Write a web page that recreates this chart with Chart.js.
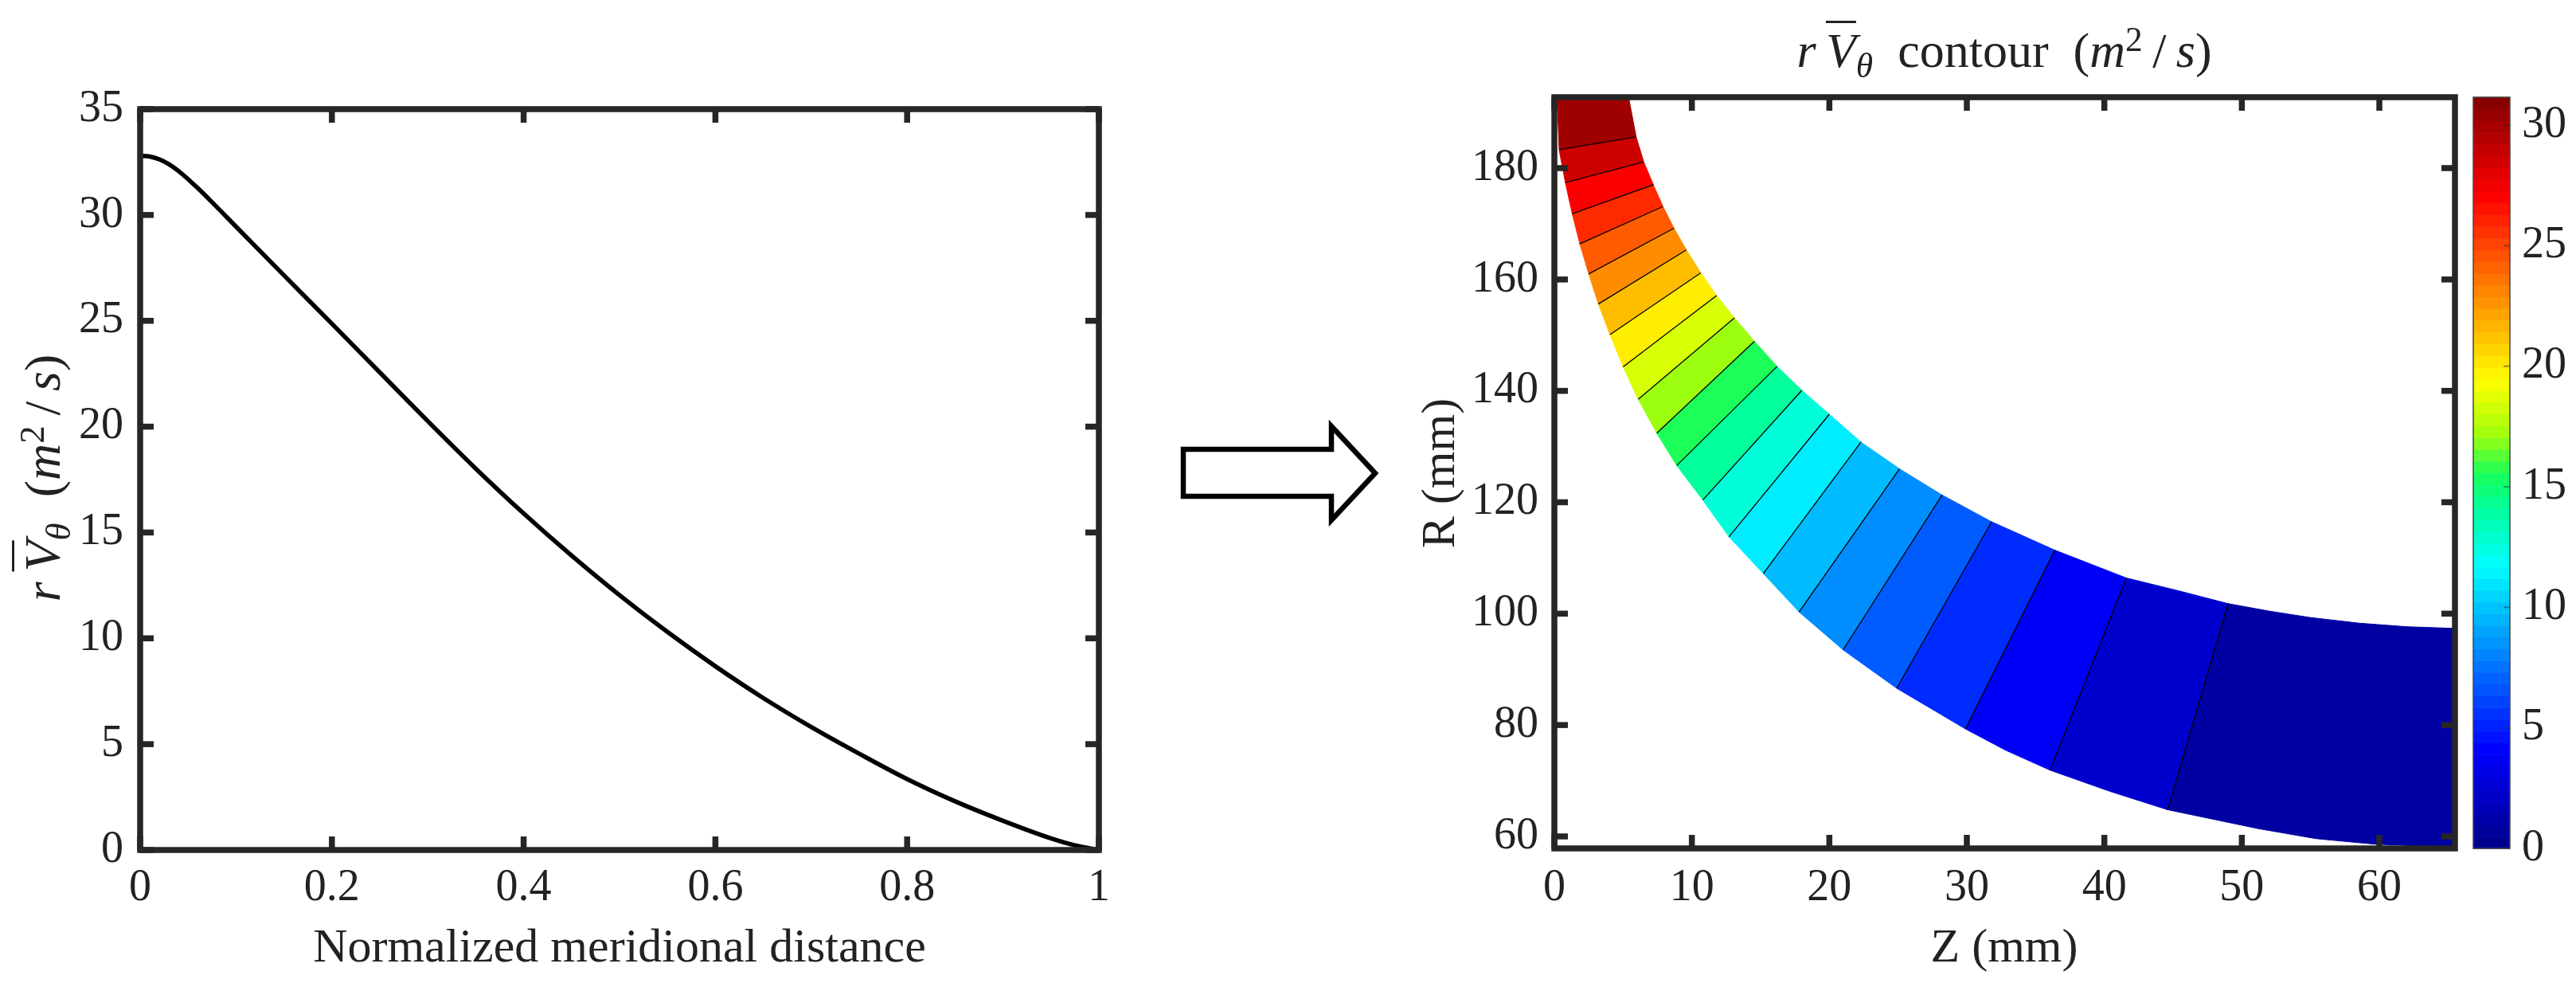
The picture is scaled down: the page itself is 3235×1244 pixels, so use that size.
<!DOCTYPE html>
<html>
<head>
<meta charset="utf-8">
<script src="https://cdn.jsdelivr.net/npm/chart.js@4.4.0/dist/chart.umd.min.js"></script>
<style>
  body { margin: 0; background: #fff; width: 3235px; height: 1244px; overflow: hidden; position: relative;
         font-family: 'Liberation Serif', serif; color: #222; }
  canvas { position: absolute; top: 0; }
  .lbl { position: absolute; font-size: 60px; line-height: 60px; white-space: nowrap; }
  .ov { text-decoration: overline; text-decoration-thickness: 3px; }
  .sub { position: relative; top: 0.3em; font-size: 0.7em; line-height: 0; }
  .sup { position: relative; top: -0.45em; font-size: 0.7em; line-height: 0; }
</style>
</head>
<body>
<canvas id="curve" width="1440" height="1244" style="left:0"></canvas>
<canvas id="contour" width="1420" height="1244" style="left:1700px"></canvas>
<canvas id="cbar" width="145" height="1244" style="left:3090px"></canvas>

<svg width="3235" height="1244" style="position:absolute;left:0;top:0">
  <polygon points="1486,564 1672,564 1672,535 1727,594 1672,653 1672,623 1486,623"
           fill="#fff" stroke="#000" stroke-width="6.5" stroke-linejoin="miter"/>
</svg>

<div class="lbl" style="left:54px;top:600px;font-size:64px;line-height:64px;transform:translate(-50%,-50%) rotate(-90deg)"><i>r</i>&thinsp;<i class="ov">V</i><span class="sub"><i>θ</i></span>&nbsp;&nbsp;(<i>m</i><span class="sup">2</span>&thinsp;/&thinsp;<i>s</i>)</div>
<div class="lbl" style="left:778px;top:1157px;transform:translateX(-50%)">Normalized meridional distance</div>
<div class="lbl" style="left:2517px;top:32px;font-size:62px;line-height:62px;transform:translateX(-50%)"><i>r</i>&thinsp;<i class="ov">V</i><span class="sub"><i>θ</i></span>&nbsp;&nbsp;contour&nbsp;&nbsp;(<i>m</i><span class="sup">2</span>&thinsp;/&thinsp;<i>s</i>)</div>
<div class="lbl" style="left:1806px;top:594px;transform:translate(-50%,-50%) rotate(-90deg)">R (mm)</div>
<div class="lbl" style="left:2517px;top:1157px;transform:translateX(-50%)">Z (mm)</div>

<script>
// left plot: rV_theta along the normalized meridional distance
const meridionalDistance = [0, 0.01, 0.02, 0.03, 0.04, 0.05, 0.06, 0.075, 0.1, 0.15, 0.2, 0.25, 0.3, 0.35, 0.4, 0.45, 0.5, 0.55, 0.6, 0.65, 0.7, 0.75, 0.8, 0.85, 0.9, 0.95, 0.975, 1];
const rVtheta = [32.8, 32.76, 32.63, 32.4, 32.08, 31.69, 31.27, 30.6, 29.45, 27.15, 24.86, 22.56, 20.26, 18.02, 15.9, 13.91, 12.04, 10.3, 8.68, 7.18, 5.81, 4.55, 3.35, 2.3, 1.38, 0.55, 0.22, 0];
const xTickLabels = ['0', '0.2', '0.4', '0.6', '0.8', '1'];

// right plot: passage outline (Z, R in mm), not counting the contour line ends
const hubZ = [0.2, 32.8, 40.4, 51.2, 55.4, 59.7, 62.5, 65.5];
const hubR = [192.73, 75.5, 68.1, 61.4, 59.6, 58.6, 58.35, 58.2];
const shroudZ = [5.4, 45.4, 52, 55, 58.5, 62, 65.5];
const shroudR = [192.73, 104.1, 100.45, 99.3, 98.3, 97.65, 97.35];

// contour lines, inlet to outlet: hub end and shroud end
const lineHubZ = [0.35, 0.8, 1.3, 1.85, 2.5, 3.2, 4.05, 5.0, 6.1, 7.45, 8.9, 10.8, 12.7, 15.2, 17.8, 21.0, 24.9, 29.9, 36.05, 44.6];
const lineHubR = [183.3, 177.4, 171.8, 166.4, 161.0, 155.6, 150.1, 144.3, 138.5, 132.4, 126.6, 120.4, 113.8, 107.2, 100.3, 93.5, 86.6, 79.3, 71.9, 64.8];
const lineShroudZ = [5.95, 6.5, 7.2, 7.9, 8.7, 9.6, 10.65, 11.8, 13.1, 14.55, 16.2, 18.0, 20.0, 22.3, 25.1, 28.2, 31.8, 36.4, 41.6, 49.0];
const lineShroudR = [185.6, 181.1, 177.0, 173.1, 169.2, 165.3, 161.2, 157.1, 153.1, 148.9, 144.4, 140.1, 135.8, 130.8, 126.0, 121.3, 116.5, 111.4, 106.4, 101.8];

// value of each filled band, inlet to outlet
const bandLevels = [30.4, 28.9, 27.4, 26.0, 24.5, 23.0, 21.5, 20.0, 18.5, 17.1, 15.6, 14.1, 12.6, 11.1, 9.6, 8.2, 6.7, 5.2, 3.7, 2.2, 0.7];
const colorRange = [0, 31.16];

const zRange = [0, 65.5];
const rRange = [57.85, 192.73];

// jet-like colormap
const cmapStops = [
  [0.000, [0.00, 0.00, 0.56]],
  [0.125, [0.00, 0.00, 1.00]],
  [0.375, [0.00, 1.00, 1.00]],
  [0.450, [0.00, 1.00, 0.62]],
  [0.500, [0.10, 1.00, 0.35]],
  [0.550, [0.62, 1.00, 0.05]],
  [0.625, [1.00, 1.00, 0.00]],
  [0.875, [1.00, 0.00, 0.00]],
  [1.000, [0.53, 0.00, 0.00]]
];
function colormap(t) {
  t = Math.max(0, Math.min(1, t));
  let i = 0;
  while (i < cmapStops.length - 2 && t > cmapStops[i + 1][0]) i++;
  const [t0, c0] = cmapStops[i], [t1, c1] = cmapStops[i + 1];
  const f = (t - t0) / (t1 - t0);
  const c = c0.map((v, k) => Math.round(255 * (v + (c1[k] - v) * f)));
  return `rgb(${c[0]},${c[1]},${c[2]})`;
}

const AXIS = '#262626';
const SERIF = "'Liberation Serif', serif";
const tickFont = { family: SERIF, size: 56 };

// box round the plot area with inward ticks on all four sides
const matlabAxes = {
  id: 'matlabAxes',
  afterDraw(chart, args, opts) {
    const { ctx, chartArea: a, scales } = chart;
    const w = opts.lineWidth, len = opts.tickLen;
    ctx.save();
    ctx.fillStyle = AXIS;
    scales.x.ticks.forEach(t => {
      const px = scales.x.getPixelForValue(t.value);
      ctx.fillRect(px - w / 2, a.bottom - len, w, len);
      ctx.fillRect(px - w / 2, a.top, w, len);
    });
    scales.y.ticks.forEach(t => {
      const py = scales.y.getPixelForValue(t.value);
      ctx.fillRect(a.left, py - w / 2, len, w);
      ctx.fillRect(a.right - len, py - w / 2, len, w);
    });
    ctx.strokeStyle = AXIS;
    ctx.lineWidth = w;
    ctx.strokeRect(a.left, a.top, a.right - a.left, a.bottom - a.top);
    ctx.restore();
  }
};

// fill the band datasets as closed polygons
const bandFill = {
  id: 'bandFill',
  beforeDatasetsDraw(chart) {
    const { ctx, chartArea: a } = chart;
    ctx.save();
    ctx.beginPath();
    ctx.rect(a.left, a.top, a.right - a.left, a.bottom - a.top);
    ctx.clip();
    chart.data.datasets.forEach((ds, i) => {
      if (!ds.band) return;
      const pts = chart.getDatasetMeta(i).data;
      ctx.beginPath();
      pts.forEach((p, j) => j ? ctx.lineTo(p.x, p.y) : ctx.moveTo(p.x, p.y));
      ctx.closePath();
      ctx.fillStyle = ds.backgroundColor;
      ctx.strokeStyle = ds.backgroundColor;
      ctx.lineWidth = 1;
      ctx.fill();
      ctx.stroke();
    });
    ctx.restore();
  }
};

// colorbar: 64 colour steps on the y scale
const colorbarFill = {
  id: 'colorbarFill',
  beforeDatasetsDraw(chart) {
    const { ctx, chartArea: a, scales: { y } } = chart;
    const n = 64, span = colorRange[1] - colorRange[0];
    ctx.save();
    for (let i = 0; i < n; i++) {
      const y0 = y.getPixelForValue(colorRange[0] + span * i / n);
      const y1 = y.getPixelForValue(colorRange[0] + span * (i + 1) / n);
      ctx.fillStyle = colormap(i / (n - 1));
      ctx.fillRect(a.left, y1, a.right - a.left, y0 - y1 + 0.6);
    }
    ctx.strokeStyle = 'rgba(40,40,40,0.45)';
    ctx.lineWidth = 2;
    y.ticks.forEach(t => {
      const py = y.getPixelForValue(t.value);
      ctx.beginPath();
      ctx.moveTo(a.right - 8, py);
      ctx.lineTo(a.right, py);
      ctx.stroke();
    });
    ctx.strokeStyle = '#444';
    ctx.lineWidth = 1.5;
    ctx.strokeRect(a.left, a.top, a.right - a.left, a.bottom - a.top);
    ctx.restore();
  }
};

function baseScale(extra) {
  return Object.assign({
    type: 'linear',
    grid: { display: false, drawTicks: false },
    border: { display: false }
  }, extra);
}

Chart.defaults.font.family = SERIF;
Chart.defaults.color = '#222';

// left chart
new Chart(document.getElementById('curve'), {
  type: 'line',
  data: {
    datasets: [{
      data: meridionalDistance.map((x, i) => ({ x, y: rVtheta[i] })),
      borderColor: '#000',
      borderWidth: 5.5,
      pointRadius: 0,
      cubicInterpolationMode: 'monotone',
      fill: false
    }]
  },
  options: {
    responsive: false, animation: false, devicePixelRatio: 1, events: [],
    layout: { padding: { left: 0, right: 60, top: 137, bottom: 0 } },
    plugins: { legend: { display: false }, tooltip: { enabled: false },
               matlabAxes: { lineWidth: 7.5, tickLen: 17 } },
    scales: {
      x: baseScale({ min: 0, max: 1,
        ticks: { stepSize: 0.2, font: tickFont, padding: 15, maxRotation: 0, autoSkip: false,
                 callback: (v, i) => xTickLabels[i] },
        afterFit(s) { s.height = 177; } }),
      y: baseScale({ min: 0, max: 35,
        ticks: { stepSize: 5, font: tickFont, padding: 21, autoSkip: false },
        afterFit(s) { s.width = 176; } })
    }
  },
  plugins: [matlabAxes]
});

// right chart: filled contour bands and contour lines
function outline(zs, rs, lz, lr) {
  return zs.map((z, i) => ({ x: z, y: rs[i] }))
    .concat(lz.map((z, i) => ({ x: z, y: lr[i] })))
    .sort((p, q) => q.y - p.y);
}
const hubPts = outline(hubZ, hubR, lineHubZ, lineHubR);
const shroudPts = outline(shroudZ, shroudR, lineShroudZ, lineShroudR);
const between = (pts, hi, lo) => pts.filter(p => p.y <= hi + 1e-6 && p.y >= lo - 1e-6);

const nBands = bandLevels.length;
const contourSets = [];
for (let k = 0; k < nBands; k++) {
  const hHi = k === 0 ? hubPts[0].y : lineHubR[k - 1];
  const sHi = k === 0 ? shroudPts[0].y : lineShroudR[k - 1];
  const hLo = k === nBands - 1 ? hubPts[hubPts.length - 1].y : lineHubR[k];
  const sLo = k === nBands - 1 ? shroudPts[shroudPts.length - 1].y : lineShroudR[k];
  contourSets.push({
    band: true,
    data: between(shroudPts, sHi, sLo).concat(between(hubPts, hHi, hLo).reverse()),
    backgroundColor: colormap((bandLevels[k] - colorRange[0]) / (colorRange[1] - colorRange[0])),
    showLine: false,
    pointRadius: 0
  });
}
lineHubZ.forEach((z, i) => {
  contourSets.push({
    data: [{ x: z, y: lineHubR[i] }, { x: lineShroudZ[i], y: lineShroudR[i] }],
    showLine: true,
    borderColor: '#000',
    borderWidth: 1.3,
    pointRadius: 0
  });
});

new Chart(document.getElementById('contour'), {
  type: 'scatter',
  data: { datasets: contourSets },
  options: {
    responsive: false, animation: false, devicePixelRatio: 1, events: [],
    layout: { padding: { left: 0, right: 37, top: 122, bottom: 0 } },
    plugins: { legend: { display: false }, tooltip: { enabled: false },
               matlabAxes: { lineWidth: 7.5, tickLen: 17 } },
    scales: {
      x: baseScale({ min: zRange[0], max: zRange[1],
        ticks: { stepSize: 10, includeBounds: false, font: tickFont, padding: 17, maxRotation: 0, autoSkip: false },
        afterFit(s) { s.height = 179; } }),
      y: baseScale({ min: rRange[0], max: rRange[1],
        ticks: { stepSize: 20, includeBounds: false, font: tickFont, padding: 20, autoSkip: false },
        afterFit(s) { s.width = 252; } })
    }
  },
  plugins: [bandFill, matlabAxes]
});

// colorbar
new Chart(document.getElementById('cbar'), {
  type: 'scatter',
  data: { datasets: [] },
  options: {
    responsive: false, animation: false, devicePixelRatio: 1, events: [],
    layout: { padding: { left: 16, right: 0, top: 122, bottom: 179 } },
    plugins: { legend: { display: false }, tooltip: { enabled: false } },
    scales: {
      x: { display: false },
      y: baseScale({ position: 'right', min: colorRange[0], max: colorRange[1],
        ticks: { stepSize: 5, includeBounds: false, font: tickFont, padding: 15, autoSkip: false },
        afterFit(s) { s.width = 83; } })
    }
  },
  plugins: [colorbarFill]
});
</script>
</body>
</html>
